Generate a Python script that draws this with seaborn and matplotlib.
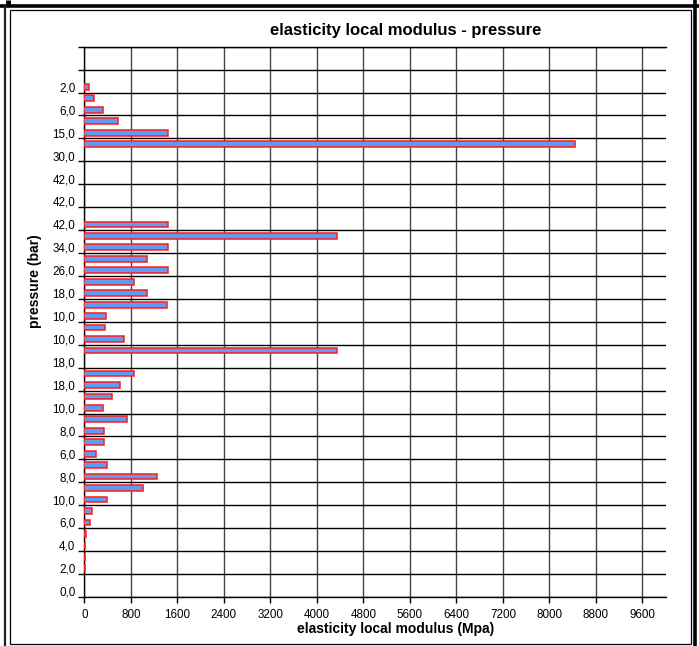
import numpy as np
import pandas as pd
import matplotlib
matplotlib.use("Agg")
import matplotlib.pyplot as plt
from matplotlib.lines import Line2D
import seaborn as sns

# ---- data (bottom category first) ----
modulus = [0, 0, 5, 12, 20, 25, 92, 139, 393, 1016,
           1253, 393, 196, 335, 335, 739, 323, 473, 612, 854,
           0, 4350, 687, 352, 381, 1426, 1074, 854, 1443, 1074,
           1443, 4350, 1443, 0, 0, 0, 0, 0, 0, 8440,
           1443, 577, 324, 168, 75, 0, 0, 0]
pressure_labels = ["0,0", "2,0", "4,0", "6,0", "10,0", "8,0", "6,0", "8,0",
                   "10,0", "18,0", "18,0", "10,0", "10,0", "18,0", "26,0",
                   "34,0", "42,0", "42,0", "42,0", "30,0", "15,0", "6,0",
                   "2,0", ""]
x_ticks = list(range(0, 10000, 800))

positions = list(range(len(modulus)))
df = pd.DataFrame({"pos": positions, "modulus": modulus})

sns.set_style("white")
plt.rcParams["font.family"] = ["Liberation Sans", "DejaVu Sans"]
plt.rcParams["text.color"] = "black"
plt.rcParams["axes.labelcolor"] = "black"
plt.rcParams["xtick.color"] = "black"
plt.rcParams["ytick.color"] = "black"

W, H = 699, 646
fig = plt.figure(figsize=(W / 100, H / 100), dpi=100)
L, R, T, B = 84.3, 665.7, 46.7, 597.0
ax = fig.add_axes([L / W, 1 - B / H, (R - L) / W, (B - T) / H])

sns.barplot(data=df, x="modulus", y="pos", orient="h", native_scale=True,
            width=0.5, color="#5E9BF2", saturation=1,
            edgecolor="#FF1A1A", linewidth=1.1, ax=ax, zorder=3)
for p in ax.patches:
    if p.get_width() == 0:
        p.set_visible(False)

ax.set_xlim(0, 10000)
ax.set_ylim(-0.5, len(modulus) - 0.5)
ax.set_xticks(x_ticks)
ax.set_xticklabels([str(v) for v in x_ticks])
ax.set_yticks(np.arange(-0.5, len(modulus), 2))
ax.set_yticklabels([])
ax.set_yticks(np.arange(0, len(modulus), 2), minor=True)
ax.set_yticklabels(pressure_labels, minor=True)

ax.tick_params(axis="y", which="major", length=4, width=1, color="black", direction="out", left=True)
ax.tick_params(axis="y", which="minor", length=0, pad=6.5, labelsize=8.4, left=True,
               labelcolor="black")
ax.tick_params(axis="x", which="major", length=4, width=1, color="black", direction="out",
               bottom=True, pad=5, labelsize=8.4, labelcolor="black")

ax.set_axisbelow(True)
ax.grid(axis="y", which="major", color="black", lw=1)
ax.grid(axis="x", which="major", color="#444444", lw=1)

for s in ["left", "bottom", "top"]:
    ax.spines[s].set_visible(True)
    ax.spines[s].set_color("black")
    ax.spines[s].set_linewidth(1)
ax.spines["right"].set_visible(False)

ax.set_xlabel("elasticity local modulus (Mpa)", fontsize=10, fontweight="bold", color="black")
ax.set_ylabel("pressure (bar)", fontsize=10, fontweight="bold", color="black")
ax.xaxis.set_label_coords((396 - L) / (R - L), (B - 629) / (B - T))
ax.xaxis.label.set_va("center")
ax.yaxis.set_label_coords((35 - L) / (R - L), (B - 281) / (B - T))
ax.yaxis.label.set_va("center")

fig.text(406 / W, 1 - 30 / H, "elasticity local modulus - pressure",
         ha="center", va="center", fontsize=12, fontweight="bold", color="black")

# ---- decorative frame ----
def fline(x0, y0, x1, y1, lw, color="black"):
    fig.add_artist(Line2D([x0 / W, x1 / W], [1 - y0 / H, 1 - y1 / H],
                          transform=fig.transFigure, lw=lw, color=color,
                          solid_capstyle="butt"))

fline(0, 5.6, 699, 5.6, 2.6)          # thick top band
fline(7.5, 0, 7.5, 5, 3.5)            # small block top-left
fline(4.5, 5, 4.5, 646, 1.6, "#222222")   # outer left
fline(10, 10, 10, 644, 0.9)            # inner left
fline(10, 10, 691, 10, 0.9)            # inner top
fline(691, 10, 691, 644, 0.9)          # inner right
fline(10, 643.5, 691, 643.5, 0.9)      # inner bottom
fline(695, 0, 695, 646, 2.6)           # outer right

fig.savefig("out.png", dpi=100)
